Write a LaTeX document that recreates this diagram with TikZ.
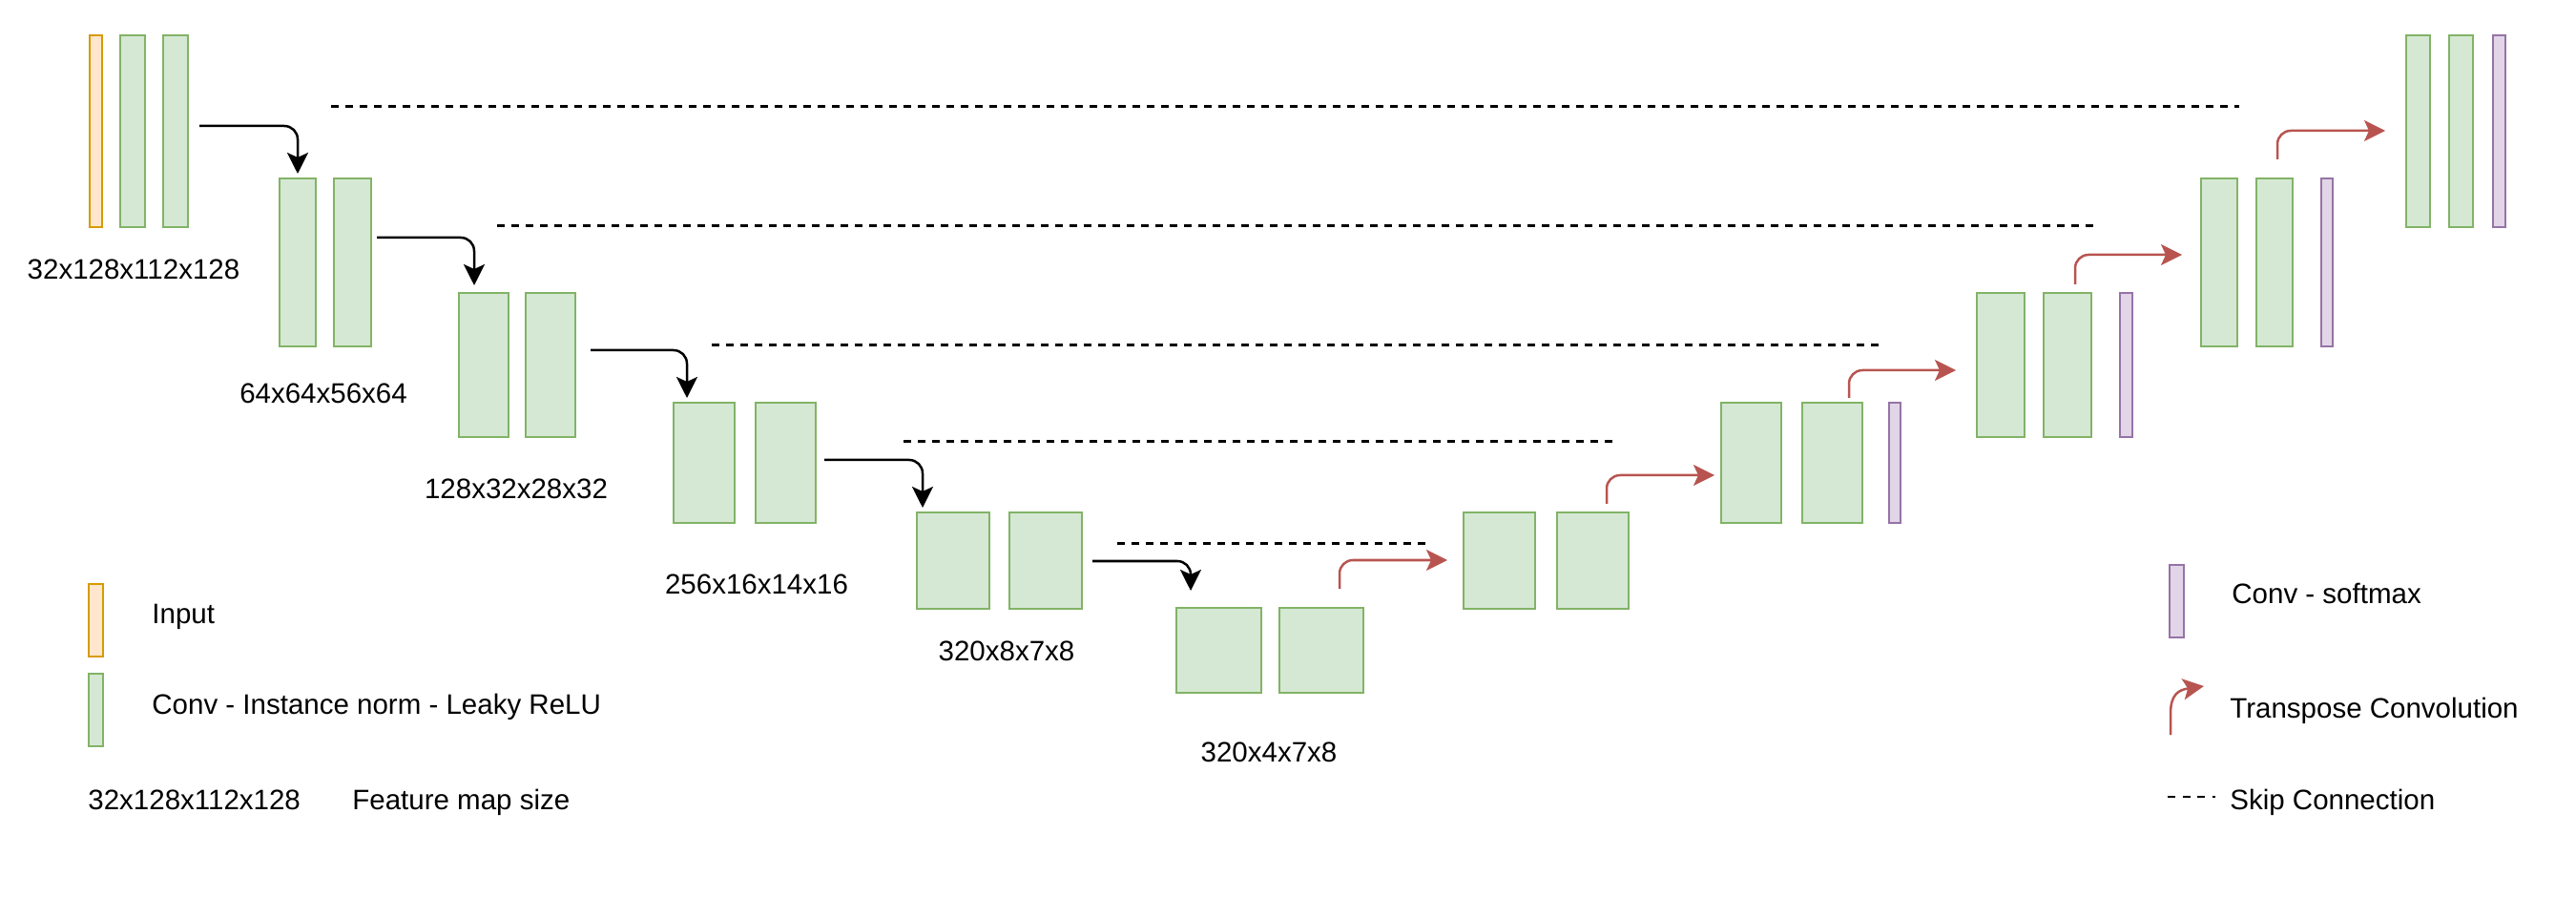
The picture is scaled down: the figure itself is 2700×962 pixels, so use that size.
\documentclass[tikz,border=0pt]{standalone}
\usepackage{fontspec}
\setmainfont{Liberation Sans}
\usetikzlibrary{arrows.meta}
\definecolor{gfill}{HTML}{D5E8D4}
\definecolor{gline}{HTML}{82B366}
\definecolor{ofill}{HTML}{FFE6CC}
\definecolor{oline}{HTML}{D79B00}
\definecolor{pfill}{HTML}{E1D5E7}
\definecolor{pline}{HTML}{9673A6}
\definecolor{rline}{HTML}{B85450}
\tikzset{
  box/.style={rectangle, inner sep=0pt, outer sep=0pt, line width=1pt},
  gbox/.style={box, draw=gline, fill=gfill},
  obox/.style={box, draw=oline, fill=ofill},
  pbox/.style={box, draw=pline, fill=pfill},
  lbl/.style={inner sep=0pt, font=\fontsize{14.75pt}{17pt}\selectfont},
  downarrow/.style={draw=black, line width=1.25pt, rounded corners=7pt,
    -{Stealth[length=11pt,width=11pt,inset=2.5pt]}},
  uparrow/.style={draw=rline, line width=1.25pt, rounded corners=7pt,
    -{Stealth[length=11pt,width=11pt,inset=2.5pt,fill=rline]}},
  skipline/.style={draw=black, line width=1.5pt, dash pattern=on 3.75pt off 3.75pt},
  skiplegend/.style={draw=black, line width=0.7pt, dash pattern=on 4pt off 3.75pt},
}
\begin{document}
\begin{tikzpicture}[x=0.5pt,y=-0.5pt]
\useasboundingbox (0,0) rectangle (2700,962);
% ---------------- encoder ----------------
\node[obox, minimum width=6.5pt, minimum height=100.5pt] (i1) at (100.5,137.5) {};
\node[gbox, minimum width=13pt, minimum height=100.5pt] (e1a) at (139,137.5) {};
\node[gbox, minimum width=13pt, minimum height=100.5pt] (e1b) at (184,137.5) {};
\node[gbox, minimum width=19pt, minimum height=88pt] (e2a) at (312,275) {};
\node[gbox, minimum width=19.5pt, minimum height=88pt] (e2b) at (369.5,275) {};
\node[gbox, minimum width=26pt, minimum height=75.5pt] (e3a) at (507,382.5) {};
\node[gbox, minimum width=26pt, minimum height=75.5pt] (e3b) at (577,382.5) {};
\node[gbox, minimum width=32pt, minimum height=63pt] (e4a) at (738,485) {};
\node[gbox, minimum width=31.5pt, minimum height=63pt] (e4b) at (823.5,485) {};
\node[gbox, minimum width=38pt, minimum height=50.5pt] (e5a) at (999,587.5) {};
\node[gbox, minimum width=38pt, minimum height=50.5pt] (e5b) at (1096,587.5) {};
\node[gbox, minimum width=44.5pt, minimum height=44.5pt] (b6a) at (1277.5,681.5) {};
\node[gbox, minimum width=44pt, minimum height=44.5pt] (b6b) at (1385,681.5) {};
% ---------------- decoder ----------------
\node[gbox, minimum width=37.5pt, minimum height=50.5pt] (d5a) at (1571.5,587.5) {};
\node[gbox, minimum width=37.5pt, minimum height=50.5pt] (d5b) at (1669.5,587.5) {};
\node[gbox, minimum width=31.5pt, minimum height=63pt] (d4a) at (1835.5,485) {};
\node[gbox, minimum width=31.5pt, minimum height=63pt] (d4b) at (1920.5,485) {};
\node[pbox, minimum width=6pt, minimum height=63pt] (p4) at (1986,485) {};
\node[gbox, minimum width=25pt, minimum height=75.5pt] (d3a) at (2097,382.5) {};
\node[gbox, minimum width=25pt, minimum height=75.5pt] (d3b) at (2167,382.5) {};
\node[pbox, minimum width=6.5pt, minimum height=75.5pt] (p3) at (2228.5,382.5) {};
\node[gbox, minimum width=19pt, minimum height=88pt] (d2a) at (2326,275) {};
\node[gbox, minimum width=19pt, minimum height=88pt] (d2b) at (2384,275) {};
\node[pbox, minimum width=6pt, minimum height=88pt] (p2) at (2439,275) {};
\node[gbox, minimum width=12.5pt, minimum height=100.5pt] (d1a) at (2534.5,137.5) {};
\node[gbox, minimum width=12.5pt, minimum height=100.5pt] (d1b) at (2579.5,137.5) {};
\node[pbox, minimum width=6.5pt, minimum height=100.5pt] (p1) at (2619.5,137.5) {};
% ---------------- skip connections ----------------
\coordinate (s1a) at (347,112);  \coordinate (s1b) at (2347,112);
\coordinate (s2a) at (521,237);  \coordinate (s2b) at (2195,237);
\coordinate (s3a) at (746,362);  \coordinate (s3b) at (1969,362);
\coordinate (s4a) at (947,463);  \coordinate (s4b) at (1690,463);
\coordinate (s5a) at (1171,570); \coordinate (s5b) at (1495,570);
\draw[skipline] (s1a) -- (s1b);
\draw[skipline] (s2a) -- (s2b);
\draw[skipline] (s3a) -- (s3b);
\draw[skipline] (s4a) -- (s4b);
\draw[skipline] (s5a) -- (s5b);
% ---------------- downsampling arrows ----------------
\coordinate (a1s) at (209,132);  \coordinate (a1e) at (312,182);
\coordinate (a2s) at (395,249);  \coordinate (a2e) at (497,299);
\coordinate (a3s) at (619,367);  \coordinate (a3e) at (720,417);
\coordinate (a4s) at (864,482);  \coordinate (a4e) at (967,532);
\coordinate (a5s) at (1145,588); \coordinate (a5e) at (1248,619);
\draw[downarrow] (a1s) -| (a1e);
\draw[downarrow] (a2s) -| (a2e);
\draw[downarrow] (a3s) -| (a3e);
\draw[downarrow] (a4s) -| (a4e);
\draw[downarrow] (a5s) -| (a5e);
% ---------------- transpose convolution arrows ----------------
\coordinate (r1s) at (1404,617); \coordinate (r1e) at (1517,587);
\coordinate (r2s) at (1684,528); \coordinate (r2e) at (1797,498);
\coordinate (r3s) at (1938,417); \coordinate (r3e) at (2050,388);
\coordinate (r4s) at (2175,298); \coordinate (r4e) at (2287,267);
\coordinate (r5s) at (2387,167); \coordinate (r5e) at (2500,137);
\draw[uparrow] (r1s) |- (r1e);
\draw[uparrow] (r2s) |- (r2e);
\draw[uparrow] (r3s) |- (r3e);
\draw[uparrow] (r4s) |- (r4e);
\draw[uparrow] (r5s) |- (r5e);
% ---------------- size labels ----------------
\node[lbl, anchor=base] (t1) at (140,292.5) {32x128x112x128};
\node[lbl, anchor=base] (t2) at (339,422.5) {64x64x56x64};
\node[lbl, anchor=base] (t3) at (541,522.5) {128x32x28x32};
\node[lbl, anchor=base] (t4) at (793,622.5) {256x16x14x16};
\node[lbl, anchor=base] (t5) at (1055,692.5) {320x8x7x8};
\node[lbl, anchor=base] (t6) at (1330,798.5) {320x4x7x8};
% ---------------- left legend ----------------
\node[obox, minimum width=7.5pt, minimum height=38pt] (li) at (100.5,650) {};
\node[gbox, minimum width=7.5pt, minimum height=38pt] (lg) at (100.5,744) {};
\node[lbl, anchor=base west] (tin) at (159,653.5) {Input};
\node[lbl, anchor=base west] (tconv) at (159,748.5) {Conv - Instance norm - Leaky ReLU};
\node[lbl, anchor=base west] (tsz) at (92,848.5) {32x128x112x128};
\node[lbl, anchor=base west] (tfm) at (369,848.5) {Feature map size};
% ---------------- right legend ----------------
\node[pbox, minimum width=7.5pt, minimum height=38pt] (lp) at (2281.5,630) {};
\node[lbl, anchor=base west] (tsm) at (2339,632.5) {Conv - softmax};
\coordinate (lrs) at (2275,770);
\coordinate (lre) at (2310,719);
\draw[draw=rline, line width=1.25pt, -{Stealth[length=11pt,width=11pt,inset=2.5pt,fill=rline]}]
  (lrs) -- (2275,748) .. controls (2275,728) and (2283,723) .. (lre);
\node[lbl, anchor=base west] (ttc) at (2337,752.5) {Transpose Convolution};
\coordinate (lds) at (2272,835); \coordinate (lde) at (2322,835);
\draw[skiplegend] (lds) -- (lde);
\node[lbl, anchor=base west] (tsk) at (2337,848.5) {Skip Connection};
\end{tikzpicture}
\end{document}
